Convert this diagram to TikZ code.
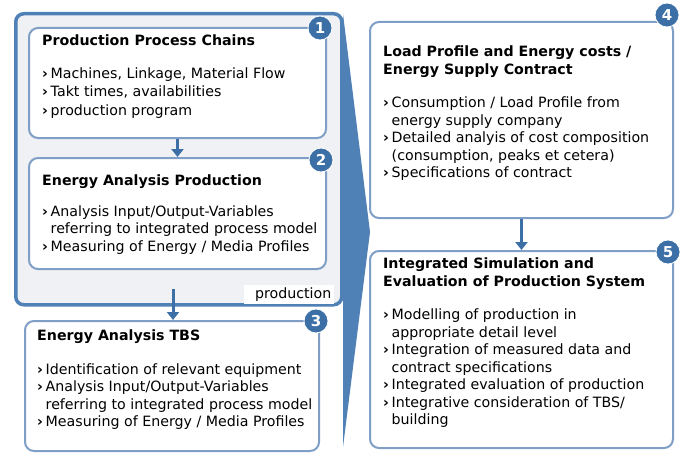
\documentclass[tikz,border=0pt]{standalone}
\usepackage{fontspec}
\setmainfont{DejaVu Sans}
\usetikzlibrary{positioning}
\usetikzlibrary{arrows.meta}
\definecolor{darkblue}{HTML}{3B6FA6}
\definecolor{lineblue}{HTML}{7F9FC6}
\definecolor{frameblue}{HTML}{4F80B6}
\definecolor{framefill}{HTML}{EFF1F4}
\tikzstyle{frame}=[draw=frameblue, line width=3.5pt, rounded corners=8pt, fill=framefill, anchor=north west, inner sep=0pt]
\tikzstyle{box}=[draw=lineblue, line width=2pt, rounded corners=9pt, fill=white, anchor=north west, inner sep=0pt]
\tikzstyle{num}=[circle, fill=darkblue, draw=white, line width=0.8pt, text=white, minimum size=24pt, inner sep=0pt, font=\fontsize{15}{15}\selectfont\bfseries]
\tikzstyle{txt}=[anchor=north west, align=left, inner sep=0pt, font=\fontsize{14.2}{17.5}\selectfont]
\tikzstyle{flow}=[darkblue, line width=3pt, -{Triangle[length=8pt,width=12pt]}]
\newcommand{\itm}{\makebox[0.6em][l]{\bfseries ›}}
\newcommand{\ind}{\hspace*{0.6em}}

\begin{document}
\begin{tikzpicture}[x=1pt, y=-1pt]
  \useasboundingbox (0,0) rectangle (692,452);
  \fill[frameblue] (343,14) -- (370,232) -- (343,447) -- cycle;
  \node[frame, minimum width=326pt, minimum height=291pt] (prod) at (14,12) {};
  \node[box, minimum width=297pt, minimum height=110pt] (chains) at (28,27) {};
  \node[box, minimum width=297pt, minimum height=111pt] (energyprod) at (28,157) {};
  \node[box, minimum width=294pt, minimum height=130pt] (tbs) at (24,320) {};
  \node[box, minimum width=303pt, minimum height=196pt] (contract) at (369,21) {};
  \node[box, minimum width=303pt, minimum height=197pt] (simulation) at (369,250) {};

  \node[fill=white, anchor=south east, text width=84pt, align=right, inner xsep=3pt, inner ysep=3pt,
        font=\fontsize{14.2}{15}\selectfont] (prodlabel) at ([shift={(-9,-2)}]prod.south east) {production};

  \node[txt, font=\fontsize{14.2}{18.5}\selectfont] (chainstext) at (42,35) {{\bfseries Production Process Chains}\\[14pt]
    \itm Machines, Linkage, Material Flow\\
    \itm Takt times, availabilities\\
    \itm production program};
  \node[txt] (energyprodtext) at (42,175) {{\bfseries Energy Analysis Production}\\[13pt]
    \itm Analysis Input/Output-Variables\\
    \ind referring to integrated process model\\
    \itm Measuring of Energy / Media Profiles};
  \node[txt] (tbstext) at (37,330) {{\bfseries Energy Analysis TBS}\\[16pt]
    \itm Identification of relevant equipment\\
    \itm Analysis Input/Output-Variables\\
    \ind referring to integrated process model\\
    \itm Measuring of Energy / Media Profiles};
  \node[txt] (contracttext) at (383,46) {{\bfseries Load Profile and Energy costs /}\\
    {\bfseries Energy Supply Contract}\\[16pt]
    \itm Consumption / Load Profile from\\
    \ind energy supply company\\
    \itm Detailed analyis of cost composition\\
    \ind (consumption, peaks et cetera)\\
    \itm Specifications of contract};
  \node[txt] (simulationtext) at (383,258) {{\bfseries Integrated Simulation and}\\
    {\bfseries Evaluation of Production System}\\[16pt]
    \itm Modelling of production in\\
    \ind appropriate detail level\\
    \itm Integration of measured data and\\
    \ind contract specifications\\
    \itm Integrated evaluation of production\\
    \itm Integrative consideration of TBS/\\
    \ind building};

  \coordinate (prodout) at (173,289);
  \draw[flow] (chains.south) -- (energyprod.north);
  \draw[flow] (prodout) -- (prodout |- tbs.north);
  \draw[flow] (contract.south) -- (simulation.north);

  \node[num] (n1) at (320,28) {1};
  \node[num] (n2) at (321,160) {2};
  \node[num] (n3) at (316,321) {3};
  \node[num] (n4) at (667,15) {4};
  \node[num] (n5) at (668,252) {5};
\end{tikzpicture}
\end{document}
